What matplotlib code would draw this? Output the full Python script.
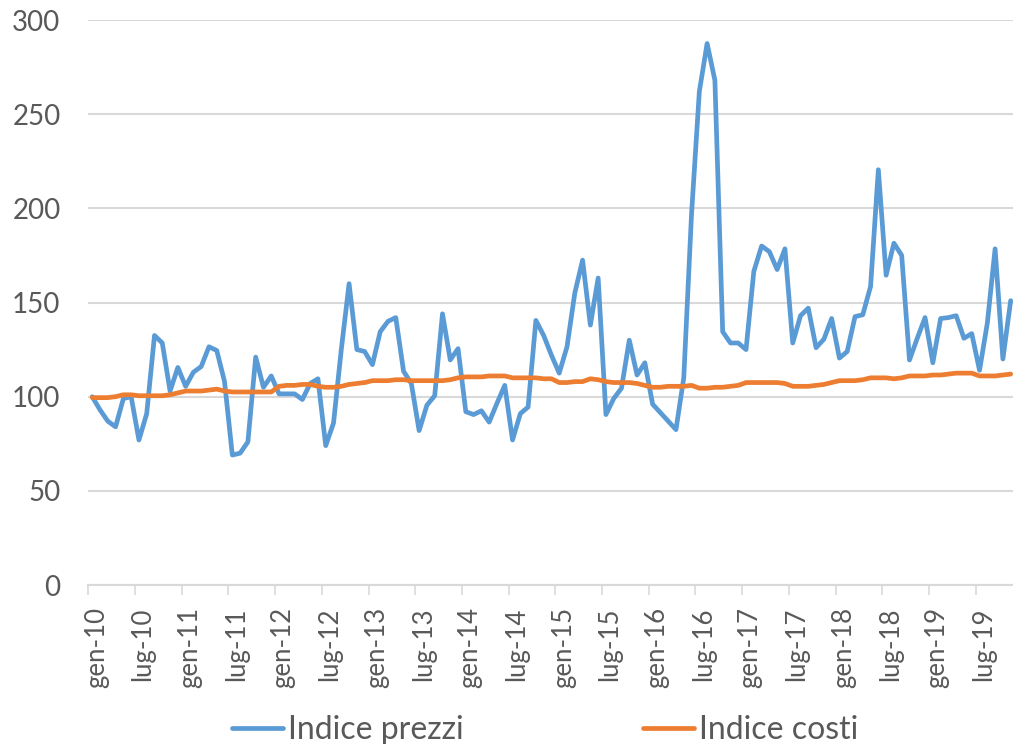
import numpy as np
import matplotlib
matplotlib.use("Agg")
import matplotlib.pyplot as plt
from matplotlib.transforms import ScaledTranslation

# monthly index values, gen-10 .. nov-19 (last month cut by the right edge)
indice_prezzi = [
    100, 93, 87, 84, 99, 100, 77, 91, 132.5, 128.5,
    103, 115.5, 105.5, 113, 116, 126.5, 124.5, 108, 69, 70,
    76, 121, 105, 111, 101.5, 101.5, 101.5, 98.5, 107, 109.5,
    74, 86, 125, 160, 125, 124, 117, 134.5, 140, 142,
    113.5, 107, 82, 95.5, 100.5, 144, 119.5, 125.5, 92, 90.5,
    92.5, 86.5, 96.5, 106, 77, 91, 94.5, 140.5, 132.5, 122,
    112.5, 126.5, 155, 172.5, 138, 163, 90.5, 99, 104.5, 130,
    111.5, 118, 96, 91.5, 87, 82.5, 110, 197, 262, 287.5,
    268, 134.5, 128.5, 128.5, 125, 166.5, 180, 177, 167.5, 178.5,
    128.5, 143, 147, 126, 130.5, 141.5, 120.5, 124, 142.5, 143.5,
    158.5, 220.5, 164.5, 181.5, 175, 119.5, 131, 142, 118, 141.5,
    142, 143, 131, 133.5, 114, 139, 178.5, 120, 151,
]
indice_costi = [
    99.5, 99.5, 99.5, 100, 101, 101, 100.5, 100.5, 100.5, 100.5,
    101, 102, 103, 103, 103, 103.5, 104, 103, 102.5, 102.5,
    102.5, 102.5, 102.5, 102.5, 105.5, 106, 106, 106.5, 106.5, 105.5,
    105, 105, 105.5, 106.5, 107, 107.5, 108.5, 108.5, 108.5, 109,
    109, 108.5, 108.5, 108.5, 108.5, 108.5, 109, 110, 110.5, 110.5,
    110.5, 111, 111, 111, 110, 110, 110, 110, 109.5, 109.5,
    107.5, 107.5, 108, 108, 109.5, 109, 108, 107.5, 107.5, 107.5,
    107, 106, 105, 105, 105.5, 105.5, 105.5, 106, 104.5, 104.5,
    105, 105, 105.5, 106, 107.5, 107.5, 107.5, 107.5, 107.5, 107,
    105.5, 105.5, 105.5, 106, 106.5, 107.5, 108.5, 108.5, 108.5, 109,
    110, 110, 110, 109.5, 110, 111, 111, 111, 111.5, 111.5,
    112, 112.5, 112.5, 112.5, 111, 111, 111, 111.5, 112,
]
tick_labels = [
    "gen-10", "lug-10", "gen-11", "lug-11", "gen-12", "lug-12", "gen-13",
    "lug-13", "gen-14", "lug-14", "gen-15", "lug-15", "gen-16", "lug-16",
    "gen-17", "lug-17", "gen-18", "lug-18", "gen-19", "lug-19",
]
y_ticks = [0, 50, 100, 150, 200, 250, 300]

BLUE = "#5B9BD5"
ORANGE = "#ED7D31"
GRID = "#D9D9D9"
TEXT = "#595959"

plt.rcParams["font.family"] = ["Lato", "DejaVu Sans"]

fig = plt.figure(figsize=(10.13, 7.44), dpi=100)
ax = fig.add_axes([0.0872, 0.2137, 1 - 0.0872, 0.9731 - 0.2137])

x = np.arange(len(indice_prezzi))
ax.plot(x, indice_prezzi, color=BLUE, lw=3.4, label="Indice prezzi",
        solid_joinstyle="round", solid_capstyle="round")
ax.plot(np.arange(len(indice_costi)), indice_costi, color=ORANGE, lw=3.4,
        label="Indice costi", solid_joinstyle="round", solid_capstyle="round")

ax.set_xlim(-0.5, 118.3)
ax.set_ylim(0, 300)

# y axis: gridlines only
ax.set_yticks(y_ticks)
ax.set_yticklabels([str(v) for v in y_ticks])
ax.yaxis.grid(True, color=GRID, lw=1.5)
ax.set_axisbelow(True)
ax.tick_params(axis="y", length=0, pad=20, labelsize=20, labelcolor=TEXT)

# x axis: ticks on category boundaries, every 6 months
ax.set_xticks(np.arange(len(tick_labels)) * 6 - 0.5)
ax.set_xticklabels(tick_labels, rotation=90, va="top")
ax.tick_params(axis="x", length=7, width=1.2, color=GRID, pad=9,
               labelsize=18.5, labelcolor=TEXT)
shift = ScaledTranslation(8 / 100, 0, fig.dpi_scale_trans)
for lab in ax.get_xticklabels():
    lab.set_transform(lab.get_transform() + shift)

for side in ["top", "right", "left"]:
    ax.spines[side].set_visible(False)
ax.spines["bottom"].set_color(GRID)
ax.spines["bottom"].set_linewidth(1.5)

fig.legend(loc="center", bbox_to_anchor=(0.538, 0.0188), ncol=2,
           frameon=False, fontsize=23, labelcolor=TEXT,
           handlelength=1.6, handletextpad=0.15, columnspacing=5.6)

fig.savefig("out.png", dpi=100)
